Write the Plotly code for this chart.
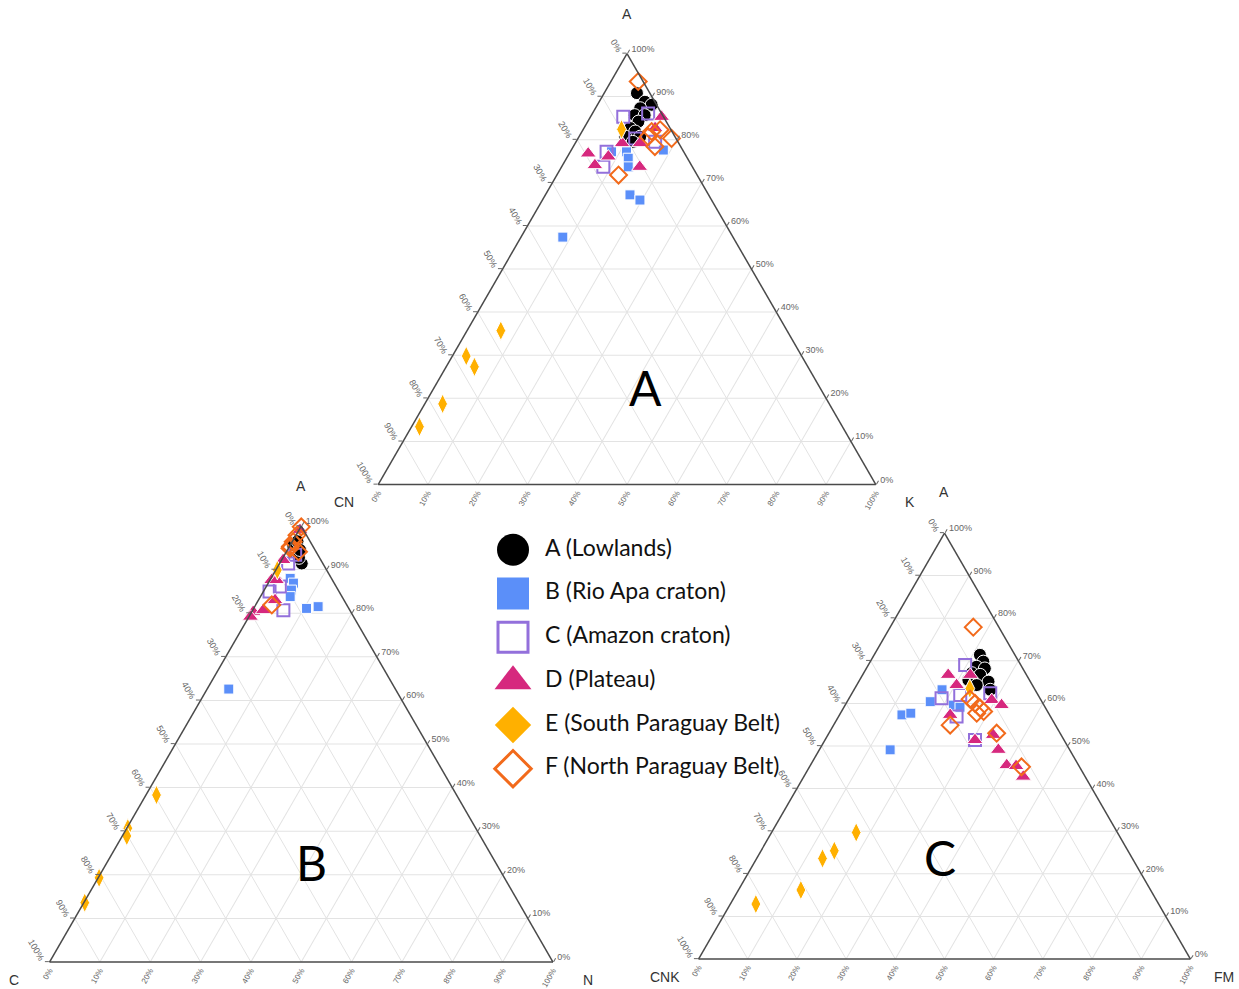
import plotly.graph_objects as go

# ---------------------------------------------------------------------------
# Sample groups
# ---------------------------------------------------------------------------
groups = ["A (Lowlands)", "B (Rio Apa craton)", "C (Amazon craton)",
          "D (Plateau)", "E (South Paraguay Belt)", "F (North Paraguay Belt)"]

# Diagram A: A - CN - K (values in %, CN = 100 - A - K)
acnk_a = {
    "A (Lowlands)": [90.8, 88.8, 88.1, 87.3, 85.7, 85.7, 84.2, 82.7, 81.9, 80.7, 80.7, 79.5],
    "B (Rio Apa craton)": [77.2, 75.7, 77.6, 73.7, 67.2, 66.0, 77.2, 57.4],
    "C (Amazon craton)": [85.3, 86.1, 77.2, 73.7, 80.3, 79.5],
    "D (Plateau)": [85.3, 79.2, 79.2, 76.8, 76.1, 74.1, 73.7, 82.7],
    "E (South Paraguay Belt)": [82.4, 35.7, 29.8, 27.3, 18.7, 13.4],
    "F (North Paraguay Belt)": [93.5, 81.9, 82.3, 80.3, 78.4, 71.8, 80.7],
}
acnk_k = {
    "A (Lowlands)": [6.6, 9.2, 10.9, 9.0, 8.7, 10.7, 10.2, 9.3, 10.7, 9.3, 12.3, 11.4],
    "B (Rio Apa craton)": [11.3, 12.4, 18.5, 13.4, 17.0, 19.6, 8.3, 8.4],
    "C (Amazon craton)": [6.6, 11.2, 7.3, 8.4, 11.5, 15.9],
    "D (Plateau)": [14.3, 9.4, 13.0, 3.8, 8.2, 6.5, 15.7, 14.3],
    "E (South Paraguay Belt)": [7.7, 6.8, 2.8, 5.7, 3.6, 1.6],
    "F (North Paraguay Belt)": [5.5, 14.0, 15.5, 18.8, 16.4, 12.4, 13.9],
}

# Diagram B: A - C - N (values in %, C = 100 - A - N)
acn_a = {
    "A (Lowlands)": [91.4, 93.7, 95.6, 92.7, 96.5, 94.5],
    "B (Rio Apa craton)": [88.0, 86.9, 85.3, 83.8, 81.1, 81.5, 62.6],
    "C (Amazon craton)": [91.4, 86.1, 80.7, 93.4, 85.0],
    "D (Plateau)": [92.2, 88.4, 87.6, 87.6, 80.3, 80.7, 79.2, 83.0, 99.1],
    "E (South Paraguay Belt)": [89.9, 38.3, 30.7, 28.9, 19.3, 13.6],
    "F (North Paraguay Belt)": [99.8, 97.9, 96.4, 95.3, 94.1, 94.9, 81.9],
}
acn_n = {
    "A (Lowlands)": [4.4, 2.2, 0.6, 3.2, 1.0, 2.5],
    "B (Rio Apa craton)": [3.8, 5.0, 5.4, 5.9, 10.5, 12.6, 4.3],
    "C (Amazon craton)": [1.7, 2.7, 6.1, 2.1, 1.2],
    "D (Plateau)": [0.3, 0.6, 0.3, 1.3, 0.3, 2.1, 0.3, 3.3, 0.2],
    "E (South Paraguay Belt)": [0.3, 2.1, 0.2, 0.9, 0.2, 0.2],
    "F (North Paraguay Belt)": [0.1, 0.2, 0.2, 0.2, 2.4, 0.3, 3.2],
}

# Diagram C: A - CNK - FM (values in %, CNK = 100 - A - FM)
acnkfm_a = {
    "A (Lowlands)": [71.4, 69.8, 68.6, 68.2, 67.1, 66.7, 65.1, 65.5, 64.3, 63.2],
    "B (Rio Apa craton)": [63.2, 60.4, 59.6, 59.1, 57.3, 57.7, 49.1],
    "C (Amazon craton)": [69.0, 61.2, 62.0, 62.4, 56.9, 51.4],
    "D (Plateau)": [66.7, 66.7, 64.3, 60.8, 59.6, 57.3, 51.4, 52.6, 49.1, 45.5, 42.8, 45.3],
    "E (South Paraguay Belt)": [63.5, 29.7, 25.4, 23.6, 16.2, 12.9],
    "F (North Paraguay Belt)": [77.9, 61.0, 60.0, 58.9, 58.1, 57.7, 54.9, 53.0, 45.1],
}
acnkfm_fm = {
    "A (Lowlands)": [21.5, 23.0, 22.2, 24.1, 22.0, 23.9, 26.4, 22.1, 24.4, 27.7],
    "B (Rio Apa craton)": [17.9, 16.9, 22.0, 23.6, 12.7, 14.3, 14.4],
    "C (Amazon craton)": [19.7, 18.8, 22.2, 28.1, 24.0, 30.5],
    "D (Plateau)": [17.4, 21.9, 20.3, 29.2, 31.8, 22.5, 30.5, 33.6, 36.4, 39.9, 44.6, 41.9],
    "E (South Paraguay Belt)": [23.4, 17.2, 14.9, 13.4, 12.7, 5.2],
    "F (North Paraguay Belt)": [16.9, 24.7, 26.2, 27.8, 28.9, 27.7, 23.7, 34.1, 43.1],
}

tick_values = list(range(0, 101, 10))

# ---------------------------------------------------------------------------
# Marker styles
# ---------------------------------------------------------------------------
styles = {
    "A (Lowlands)": dict(symbol="circle", color="#000000", size=13,
                         line=dict(color="white", width=1)),
    "B (Rio Apa craton)": dict(symbol="square", color="#5B8FF9", size=10,
                               line=dict(color="white", width=1)),
    "C (Amazon craton)": dict(symbol="square-open", color="#9370DB", size=12,
                              line=dict(color="#9370DB", width=2)),
    "D (Plateau)": dict(symbol="triangle-up", color="#D6287E", size=14,
                        line=dict(color="white", width=1)),
    "E (South Paraguay Belt)": dict(symbol="diamond-tall", color="#FFB000", size=14,
                                    line=dict(color="white", width=1)),
    "F (North Paraguay Belt)": dict(symbol="diamond-open", color="#F26A1B", size=13,
                                    line=dict(color="#F26A1B", width=2)),
}
legend_styles = {
    "A (Lowlands)": dict(symbol="circle", color="#000000", size=32, line=dict(width=0)),
    "B (Rio Apa craton)": dict(symbol="square", color="#5B8FF9", size=32, line=dict(width=0)),
    "C (Amazon craton)": dict(symbol="square-open", color="#9370DB", size=30,
                              line=dict(color="#9370DB", width=3)),
    "D (Plateau)": dict(symbol="triangle-up", color="#D6287E", size=32, line=dict(width=0)),
    "E (South Paraguay Belt)": dict(symbol="diamond", color="#FFB000", size=28, line=dict(width=0)),
    "F (North Paraguay Belt)": dict(symbol="diamond-open", color="#F26A1B", size=28,
                                    line=dict(color="#F26A1B", width=3)),
}

fig = go.Figure()

diagrams = [
    ("ternary", acnk_a, acnk_k),
    ("ternary2", acn_a, acn_n),
    ("ternary3", acnkfm_a, acnkfm_fm),
]
for subplot, a_vals, c_vals in diagrams:
    for g in groups:
        a = a_vals[g]
        c = c_vals[g]
        b = [round(100 - x - y, 1) for x, y in zip(a, c)]
        fig.add_trace(go.Scatterternary(
            a=a, b=b, c=c, subplot=subplot, mode="markers", name=g,
            marker=dict(opacity=1, **styles[g]), cliponaxis=False, showlegend=False,
        ))

# Legend panel drawn as its own small scatter plot
rows = list(range(len(groups)))
fig.add_trace(go.Scatter(
    x=[0] * len(groups), y=rows, mode="markers", xaxis="x", yaxis="y",
    marker=dict(
        opacity=1,
        symbol=[legend_styles[g]["symbol"] for g in groups],
        color=[legend_styles[g]["color"] for g in groups],
        size=[legend_styles[g]["size"] for g in groups],
        line=dict(color=[legend_styles[g]["line"].get("color", "white") for g in groups],
                  width=[legend_styles[g]["line"]["width"] for g in groups]),
    ),
    showlegend=False, hoverinfo="skip", cliponaxis=False,
))
fig.add_trace(go.Scatter(
    x=[1] * len(groups), y=rows, mode="text", text=groups, textposition="middle right",
    textfont=dict(family="Lato", size=23, color="#111111"),
    xaxis="x", yaxis="y", showlegend=False, hoverinfo="skip", cliponaxis=False,
))


def axis_style(tickangle, ticks, ticklen, fontsize):
    return dict(
        title=dict(text=""),
        tickmode="array", tickvals=tick_values,
        ticktext=[f"{100 - v}%" for v in tick_values],
        tickangle=tickangle,
        tickfont=dict(family="Arial", size=fontsize, color="#666666"),
        ticks=ticks, ticklen=ticklen, tickcolor="#666666",
        linecolor="#4A4A4A", linewidth=1.5,
        gridcolor="#E3E3E3", gridwidth=1, showgrid=True,
    )


def ternary(xd, yd):
    return dict(
        domain=dict(x=xd, y=yd), sum=100, bgcolor="white",
        aaxis=axis_style(60, "outside", 4, 9),
        baxis=axis_style(-60, "", 0, 8),
        caxis=axis_style(0, "outside", 4, 9),
    )


W, H = 1239, 989
fig.update_layout(
    width=W, height=H, margin=dict(l=0, r=0, t=0, b=0),
    paper_bgcolor="white", plot_bgcolor="white",
    ternary=ternary([378 / W, 876 / W], [1 - 484.5 / H, 1 - 53.5 / H]),
    ternary2=ternary([49.5 / W, 553 / W], [1 - 962 / H, 1 - 526 / H]),
    ternary3=ternary([698.5 / W, 1190.5 / W], [1 - 959 / H, 1 - 533 / H]),
    xaxis=dict(domain=[497 / W, 817 / W], range=[-0.5, 9.5], visible=False, fixedrange=True),
    yaxis=dict(domain=[1 - 795 / H, 1 - 523.5 / H], range=[5.6, -0.6], visible=False,
               fixedrange=True),
)

# Corner labels and diagram letters
corner_labels = [
    ("A", 627, 14), ("CN", 344, 502), ("K", 910, 502),
    ("A", 301, 486), ("C", 14, 980), ("N", 588, 980),
    ("A", 944, 492), ("CNK", 665, 977), ("FM", 1224, 977),
]
for text, px, py in corner_labels:
    fig.add_annotation(text=text, x=px / W, y=1 - py / H, xref="paper", yref="paper",
                       xanchor="center", yanchor="middle", showarrow=False,
                       font=dict(family="Arial", size=14, color="#333333"))

diagram_letters = [("A", 645, 388), ("B", 311, 862), ("C", 940, 857)]
for text, px, py in diagram_letters:
    fig.add_annotation(text=text, x=px / W, y=1 - py / H, xref="paper", yref="paper",
                       xanchor="center", yanchor="middle", showarrow=False,
                       font=dict(family="Lato", size=48, color="#000000"))

fig.write_html("out.html")
